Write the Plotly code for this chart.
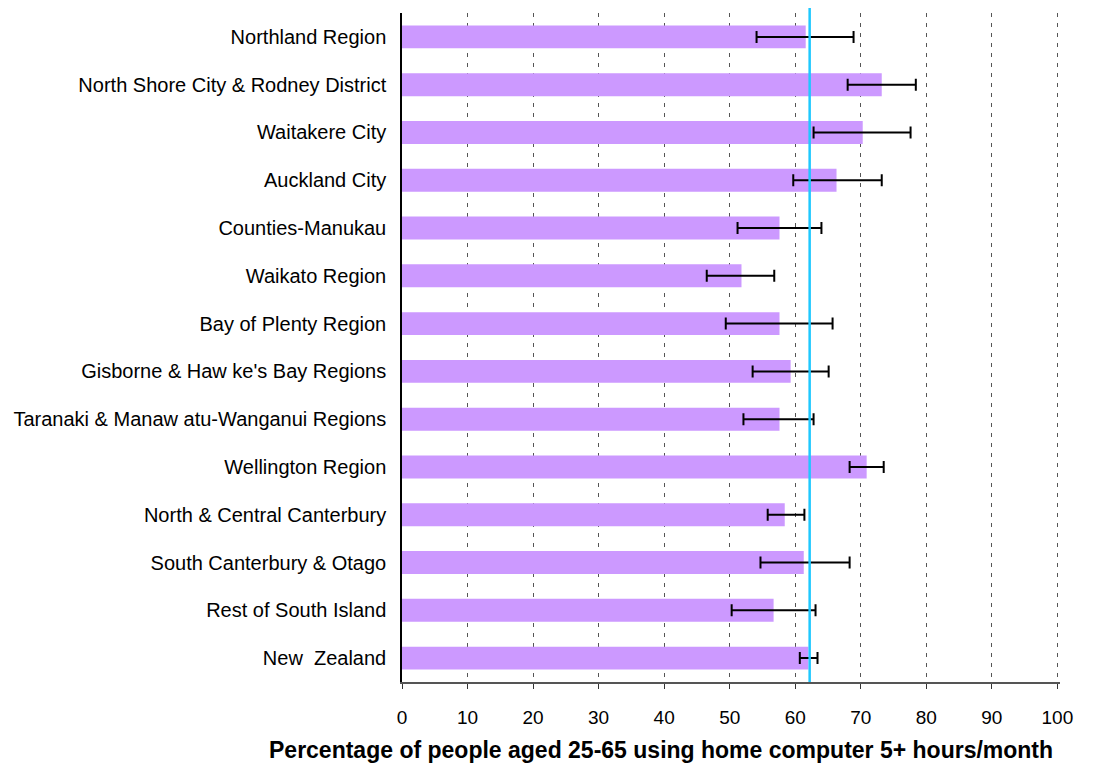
import plotly.graph_objects as go

regions = [
    "Northland Region",
    "North Shore City & Rodney District",
    "Waitakere City",
    "Auckland City",
    "Counties-Manukau",
    "Waikato Region",
    "Bay of Plenty Region",
    "Gisborne & Haw ke's Bay Regions",
    "Taranaki & Manaw atu-Wanganui Regions",
    "Wellington Region",
    "North & Central Canterbury",
    "South Canterbury & Otago",
    "Rest of South Island",
    "New  Zealand",
]
values = [61.6, 73.2, 70.3, 66.3, 57.6, 51.8, 57.6, 59.3, 57.6, 70.9, 58.4, 61.3, 56.7, 62.0]
ci_low = [54.1, 68.0, 62.8, 59.7, 51.2, 46.5, 49.4, 53.5, 52.1, 68.3, 55.8, 54.7, 50.3, 60.7]
ci_high = [68.9, 78.4, 77.6, 73.2, 64.0, 56.8, 65.7, 65.1, 62.8, 73.5, 61.4, 68.3, 63.1, 63.4]
nz_line = 62.2
x_ticks = [0, 10, 20, 30, 40, 50, 60, 70, 80, 90, 100]
x_title = "Percentage of people aged 25-65 using home computer 5+ hours/month"

plus = [h - v for h, v in zip(ci_high, values)]
minus = [v - l for v, l in zip(values, ci_low)]

FONT = "Liberation Sans, Arial, sans-serif"

fig = go.Figure()
fig.add_trace(go.Bar(
    x=values, y=regions, orientation="h",
    marker=dict(color="#CC99FF", line=dict(width=0)),
    width=0.48,
    error_x=dict(type="data", symmetric=False, array=plus, arrayminus=minus,
                 color="black", thickness=2, width=6),
    showlegend=False,
))

fig.add_shape(type="line", xref="x", yref="paper", x0=nz_line, x1=nz_line,
              y0=0, y1=1.011, line=dict(color="#1EC8FF", width=2.5), layer="above")

fig.add_annotation(text="<b>" + x_title + "</b>", xref="paper", yref="paper",
                   x=0.393, y=-0.1016, xanchor="center", yanchor="middle",
                   showarrow=False, font=dict(family=FONT, size=23, color="black"))

fig.update_layout(
    width=1099, height=769,
    margin=dict(l=394, r=47, t=5, b=95),
    paper_bgcolor="white", plot_bgcolor="white",
    font=dict(family=FONT, size=20, color="black"),
    bargap=0.52,
)
fig.update_xaxes(
    range=[0, 100.4], tickvals=x_ticks, ticktext=[str(t) for t in x_ticks],
    showgrid=True, gridcolor="#555555", gridwidth=1, griddash="4px,6px",
    showline=True, linecolor="#555555", linewidth=1.5,
    ticks="outside", ticklen=5, tickcolor="#333333", tickwidth=1,
    tickfont=dict(family=FONT, size=19), ticklabelstandoff=12,
    zeroline=False,
)
fig.update_yaxes(
    autorange="reversed", showgrid=False, showline=True, linecolor="black",
    linewidth=1.5, ticks="", tickfont=dict(family=FONT, size=20),
    ticklabelstandoff=10,
)

fig.write_html("out.html")
